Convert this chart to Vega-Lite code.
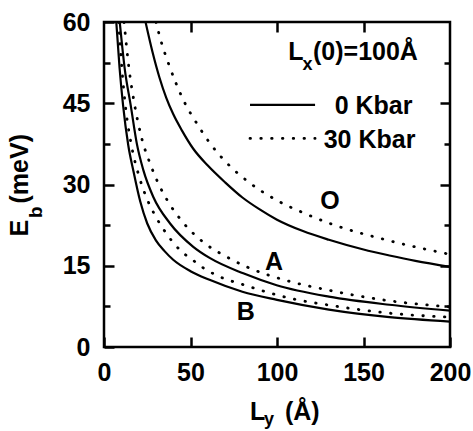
{
  "$schema": "https://vega.github.io/schema/vega-lite/v6.json",
  "width": 346,
  "height": 325,
  "autosize": {"type": "none"},
  "padding": {"left": 104, "top": 22, "right": 23, "bottom": 84},
  "background": "white",
  "config": {
    "font": "Liberation Sans",
    "view": {"stroke": "black", "strokeWidth": 2.5},
    "axis": {
      "domain": false,
      "grid": false,
      "ticks": true,
      "tickColor": "black",
      "tickWidth": 2.5,
      "tickOpacity": 1,
      "labelFont": "Liberation Sans",
      "labelFontSize": 25,
      "labelFontWeight": "bold",
      "labelColor": "black",
      "labelOverlap": false,
      "labelFlush": false,
      "labelBound": false,
      "title": null
    },
    "text": {"font": "Liberation Sans", "fontWeight": "bold", "color": "black"}
  },
  "datasets": {
    "curves": [
      {"series": "O", "pressure": "0 Kbar", "Ly": 24, "E": 60},
      {"series": "O", "pressure": "0 Kbar", "Ly": 28, "E": 54.5},
      {"series": "O", "pressure": "0 Kbar", "Ly": 32, "E": 49.8},
      {"series": "O", "pressure": "0 Kbar", "Ly": 36, "E": 46.0},
      {"series": "O", "pressure": "0 Kbar", "Ly": 40, "E": 43.0},
      {"series": "O", "pressure": "0 Kbar", "Ly": 45, "E": 40.0},
      {"series": "O", "pressure": "0 Kbar", "Ly": 51.6, "E": 36.6},
      {"series": "O", "pressure": "0 Kbar", "Ly": 60, "E": 33.5},
      {"series": "O", "pressure": "0 Kbar", "Ly": 70, "E": 30.4},
      {"series": "O", "pressure": "0 Kbar", "Ly": 80, "E": 27.6},
      {"series": "O", "pressure": "0 Kbar", "Ly": 90, "E": 25.4},
      {"series": "O", "pressure": "0 Kbar", "Ly": 100, "E": 23.5},
      {"series": "O", "pressure": "0 Kbar", "Ly": 115, "E": 21.4},
      {"series": "O", "pressure": "0 Kbar", "Ly": 130, "E": 19.8},
      {"series": "O", "pressure": "0 Kbar", "Ly": 150, "E": 18.0},
      {"series": "O", "pressure": "0 Kbar", "Ly": 165, "E": 16.9},
      {"series": "O", "pressure": "0 Kbar", "Ly": 180, "E": 15.9},
      {"series": "O", "pressure": "0 Kbar", "Ly": 200, "E": 14.8},

      {"series": "O", "pressure": "30 Kbar", "Ly": 30, "E": 60},
      {"series": "O", "pressure": "30 Kbar", "Ly": 33.3, "E": 56.1},
      {"series": "O", "pressure": "30 Kbar", "Ly": 37.2, "E": 52.4},
      {"series": "O", "pressure": "30 Kbar", "Ly": 41.6, "E": 48.7},
      {"series": "O", "pressure": "30 Kbar", "Ly": 46.8, "E": 45.0},
      {"series": "O", "pressure": "30 Kbar", "Ly": 53.6, "E": 41.3},
      {"series": "O", "pressure": "30 Kbar", "Ly": 61.3, "E": 37.6},
      {"series": "O", "pressure": "30 Kbar", "Ly": 71.2, "E": 33.9},
      {"series": "O", "pressure": "30 Kbar", "Ly": 83.4, "E": 30.5},
      {"series": "O", "pressure": "30 Kbar", "Ly": 99.8, "E": 27.1},
      {"series": "O", "pressure": "30 Kbar", "Ly": 115, "E": 24.8},
      {"series": "O", "pressure": "30 Kbar", "Ly": 130.6, "E": 22.8},
      {"series": "O", "pressure": "30 Kbar", "Ly": 163.4, "E": 19.75},
      {"series": "O", "pressure": "30 Kbar", "Ly": 200, "E": 17.1},

      {"series": "A", "pressure": "0 Kbar", "Ly": 9.1, "E": 60},
      {"series": "A", "pressure": "0 Kbar", "Ly": 12, "E": 51.3},
      {"series": "A", "pressure": "0 Kbar", "Ly": 15.4, "E": 44.7},
      {"series": "A", "pressure": "0 Kbar", "Ly": 19, "E": 37.5},
      {"series": "A", "pressure": "0 Kbar", "Ly": 22.7, "E": 32.7},
      {"series": "A", "pressure": "0 Kbar", "Ly": 28.5, "E": 27.7},
      {"series": "A", "pressure": "0 Kbar", "Ly": 38.2, "E": 22.8},
      {"series": "A", "pressure": "0 Kbar", "Ly": 51.6, "E": 18.5},
      {"series": "A", "pressure": "0 Kbar", "Ly": 61.3, "E": 16.4},
      {"series": "A", "pressure": "0 Kbar", "Ly": 80.5, "E": 13.6},
      {"series": "A", "pressure": "0 Kbar", "Ly": 99.8, "E": 11.4},
      {"series": "A", "pressure": "0 Kbar", "Ly": 130, "E": 9.3},
      {"series": "A", "pressure": "0 Kbar", "Ly": 165, "E": 7.8},
      {"series": "A", "pressure": "0 Kbar", "Ly": 200, "E": 6.7},

      {"series": "A", "pressure": "30 Kbar", "Ly": 11.6, "E": 60},
      {"series": "A", "pressure": "30 Kbar", "Ly": 14.5, "E": 51.3},
      {"series": "A", "pressure": "30 Kbar", "Ly": 17.7, "E": 44.7},
      {"series": "A", "pressure": "30 Kbar", "Ly": 22, "E": 38.3},
      {"series": "A", "pressure": "30 Kbar", "Ly": 26.6, "E": 33.9},
      {"series": "A", "pressure": "30 Kbar", "Ly": 31.4, "E": 30.2},
      {"series": "A", "pressure": "30 Kbar", "Ly": 37.7, "E": 26.5},
      {"series": "A", "pressure": "30 Kbar", "Ly": 46.2, "E": 22.8},
      {"series": "A", "pressure": "30 Kbar", "Ly": 58.4, "E": 19.1},
      {"series": "A", "pressure": "30 Kbar", "Ly": 70.5, "E": 16.7},
      {"series": "A", "pressure": "30 Kbar", "Ly": 82.5, "E": 14.8},
      {"series": "A", "pressure": "30 Kbar", "Ly": 107.5, "E": 12.1},
      {"series": "A", "pressure": "30 Kbar", "Ly": 129.6, "E": 10.5},
      {"series": "A", "pressure": "30 Kbar", "Ly": 163.4, "E": 8.6},
      {"series": "A", "pressure": "30 Kbar", "Ly": 200, "E": 7.4},

      {"series": "B", "pressure": "0 Kbar", "Ly": 7.1, "E": 60},
      {"series": "B", "pressure": "0 Kbar", "Ly": 9, "E": 51.5},
      {"series": "B", "pressure": "0 Kbar", "Ly": 11, "E": 44.7},
      {"series": "B", "pressure": "0 Kbar", "Ly": 14, "E": 37.3},
      {"series": "B", "pressure": "0 Kbar", "Ly": 17, "E": 32.5},
      {"series": "B", "pressure": "0 Kbar", "Ly": 21, "E": 26.8},
      {"series": "B", "pressure": "0 Kbar", "Ly": 25, "E": 22.8},
      {"series": "B", "pressure": "0 Kbar", "Ly": 30, "E": 19.7},
      {"series": "B", "pressure": "0 Kbar", "Ly": 35, "E": 17.7},
      {"series": "B", "pressure": "0 Kbar", "Ly": 40, "E": 16.1},
      {"series": "B", "pressure": "0 Kbar", "Ly": 50, "E": 14.0},
      {"series": "B", "pressure": "0 Kbar", "Ly": 61, "E": 12.4},
      {"series": "B", "pressure": "0 Kbar", "Ly": 80, "E": 10.2},
      {"series": "B", "pressure": "0 Kbar", "Ly": 100, "E": 8.7},
      {"series": "B", "pressure": "0 Kbar", "Ly": 130, "E": 6.9},
      {"series": "B", "pressure": "0 Kbar", "Ly": 165, "E": 5.5},
      {"series": "B", "pressure": "0 Kbar", "Ly": 200, "E": 4.7},

      {"series": "B", "pressure": "30 Kbar", "Ly": 8.5, "E": 60},
      {"series": "B", "pressure": "30 Kbar", "Ly": 10.3, "E": 51.5},
      {"series": "B", "pressure": "30 Kbar", "Ly": 12.3, "E": 44.7},
      {"series": "B", "pressure": "30 Kbar", "Ly": 16, "E": 37.0},
      {"series": "B", "pressure": "30 Kbar", "Ly": 20, "E": 31.8},
      {"series": "B", "pressure": "30 Kbar", "Ly": 24, "E": 28.0},
      {"series": "B", "pressure": "30 Kbar", "Ly": 28.5, "E": 24.9},
      {"series": "B", "pressure": "30 Kbar", "Ly": 35.3, "E": 21.3},
      {"series": "B", "pressure": "30 Kbar", "Ly": 39.7, "E": 19.4},
      {"series": "B", "pressure": "30 Kbar", "Ly": 44.9, "E": 17.6},
      {"series": "B", "pressure": "30 Kbar", "Ly": 50.7, "E": 16.2},
      {"series": "B", "pressure": "30 Kbar", "Ly": 57.4, "E": 14.6},
      {"series": "B", "pressure": "30 Kbar", "Ly": 64, "E": 13.4},
      {"series": "B", "pressure": "30 Kbar", "Ly": 82.5, "E": 11.3},
      {"series": "B", "pressure": "30 Kbar", "Ly": 107.5, "E": 9.0},
      {"series": "B", "pressure": "30 Kbar", "Ly": 129.6, "E": 7.75},
      {"series": "B", "pressure": "30 Kbar", "Ly": 163.4, "E": 6.3},
      {"series": "B", "pressure": "30 Kbar", "Ly": 200, "E": 5.5},

      {"series": "key", "pressure": "0 Kbar", "Ly": 84.4, "E": 44.7},
      {"series": "key", "pressure": "0 Kbar", "Ly": 122, "E": 44.7},
      {"series": "key", "pressure": "30 Kbar", "Ly": 84.4, "E": 38.5},
      {"series": "key", "pressure": "30 Kbar", "Ly": 122, "E": 38.5}
    ],
    "labelsCenter": [
      {"text": "A", "Ly": 98.3, "E": 14.2},
      {"text": "B", "Ly": 82.0, "E": 5.0},
      {"text": "O", "Ly": 130.6, "E": 25.4},
      {"text": "0 Kbar", "Ly": 155.8, "E": 43.1},
      {"text": "30 Kbar", "Ly": 153.5, "E": 36.8}
    ],
    "labelsLeft": [
      {"text": "L", "Ly": 106.5, "E": 52.9},
      {"text": "(0)=100Å", "Ly": 120.8, "E": 52.9},
      {"text": "L", "Ly": 84.4, "E": -13.5},
      {"text": "(Å)", "Ly": 104.6, "E": -13.5}
    ],
    "subscripts": [
      {"text": "x", "Ly": 117.6, "E": 52.1},
      {"text": "y", "Ly": 95.4, "E": -13.4}
    ],
    "titleRotated": [
      {"text": "E", "Ly": -43.9, "E": 20.4},
      {"text": "(meV)", "Ly": -43.9, "E": 26.5}
    ],
    "subscriptsRotated": [
      {"text": "b", "Ly": -35.8, "E": 23.8}
    ]
  },
  "layer": [
    {
      "data": {"name": "curves"},
      "transform": [{"filter": {"field": "pressure", "equal": "0 Kbar"}}],
      "mark": {"type": "line", "interpolate": "monotone", "clip": true, "color": "black", "strokeWidth": 2.2},
      "encoding": {
        "x": {
          "field": "Ly", "type": "quantitative",
          "scale": {"domain": [0, 200], "nice": false},
          "axis": {"orient": "bottom", "values": [0, 50, 100, 150, 200], "tickSize": -10, "labelPadding": 23}
        },
        "y": {
          "field": "E", "type": "quantitative",
          "scale": {"domain": [0, 60], "nice": false},
          "axis": {"orient": "left", "values": [0, 15, 30, 45, 60], "tickSize": -10, "labelPadding": 24}
        },
        "detail": {"field": "series"}
      }
    },
    {
      "data": {"name": "curves"},
      "transform": [{"filter": {"field": "pressure", "equal": "30 Kbar"}}],
      "mark": {"type": "line", "interpolate": "monotone", "clip": true, "color": "black", "strokeWidth": 2.8, "strokeCap": "round", "strokeDash": [0.5, 10.3]},
      "encoding": {
        "x": {
          "field": "Ly", "type": "quantitative",
          "scale": {"domain": [0, 200], "nice": false},
          "axis": {"orient": "top", "values": [50, 100, 150], "tickSize": -10, "labels": false}
        },
        "y": {
          "field": "E", "type": "quantitative",
          "scale": {"domain": [0, 60], "nice": false},
          "axis": {"orient": "right", "values": [15, 30, 45], "tickSize": -10, "labels": false}
        },
        "detail": {"field": "series"}
      }
    },
    {
      "data": {"name": "labelsCenter"},
      "mark": {"type": "text", "fontSize": 25, "align": "center", "baseline": "alphabetic"},
      "encoding": {
        "x": {"field": "Ly", "type": "quantitative", "scale": {"domain": [0, 200], "nice": false}, "axis": null},
        "y": {
          "field": "E", "type": "quantitative",
          "scale": {"domain": [0, 60], "nice": false},
          "axis": {"orient": "left", "values": [7.5, 22.5, 37.5, 52.5], "tickSize": -6, "labels": false}
        },
        "text": {"field": "text"}
      }
    },
    {
      "data": {"name": "labelsLeft"},
      "mark": {"type": "text", "fontSize": 25, "align": "left", "baseline": "alphabetic"},
      "encoding": {
        "x": {"field": "Ly", "type": "quantitative", "scale": {"domain": [0, 200], "nice": false}, "axis": null},
        "y": {
          "field": "E", "type": "quantitative",
          "scale": {"domain": [0, 60], "nice": false},
          "axis": {"orient": "right", "values": [7.5, 22.5, 37.5, 52.5], "tickSize": -6, "labels": false}
        },
        "text": {"field": "text"}
      }
    },
    {
      "data": {"name": "subscripts"},
      "mark": {"type": "text", "fontSize": 18, "align": "center", "baseline": "middle"},
      "encoding": {
        "x": {"field": "Ly", "type": "quantitative", "scale": {"domain": [0, 200], "nice": false}, "axis": null},
        "y": {"field": "E", "type": "quantitative", "scale": {"domain": [0, 60], "nice": false}, "axis": null},
        "text": {"field": "text"}
      }
    },
    {
      "data": {"name": "titleRotated"},
      "mark": {"type": "text", "fontSize": 25, "align": "left", "baseline": "alphabetic", "angle": 270},
      "encoding": {
        "x": {"field": "Ly", "type": "quantitative", "scale": {"domain": [0, 200], "nice": false}, "axis": null},
        "y": {"field": "E", "type": "quantitative", "scale": {"domain": [0, 60], "nice": false}, "axis": null},
        "text": {"field": "text"}
      }
    },
    {
      "data": {"name": "subscriptsRotated"},
      "mark": {"type": "text", "fontSize": 19, "align": "left", "baseline": "alphabetic", "angle": 270},
      "encoding": {
        "x": {"field": "Ly", "type": "quantitative", "scale": {"domain": [0, 200], "nice": false}, "axis": null},
        "y": {"field": "E", "type": "quantitative", "scale": {"domain": [0, 60], "nice": false}, "axis": null},
        "text": {"field": "text"}
      }
    }
  ],
  "resolve": {"axis": {"x": "independent", "y": "independent"}}
}
